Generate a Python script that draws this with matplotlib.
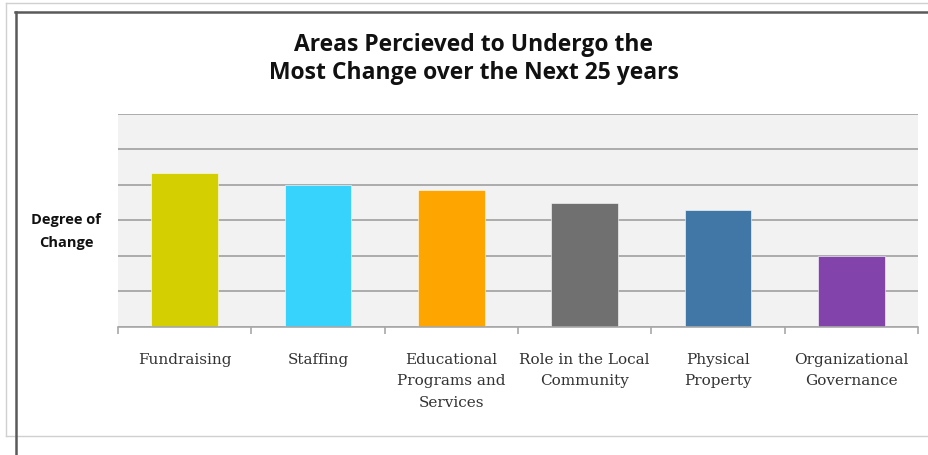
import matplotlib.pyplot as plt
from matplotlib.lines import Line2D

categories = ['Fundraising', 'Staffing', 'Educational\nPrograms and\nServices',
              'Role in the Local\nCommunity', 'Physical\nProperty',
              'Organizational\nGovernance']
values = [4.33, 4.0, 3.85, 3.48, 3.3, 2.0]
colors = ['#d4cf00', '#38d3fd', '#ffa500', '#707070', '#4177a7', '#8244ab']

W, H = 929, 456
fig = plt.figure(figsize=(W / 100, H / 100), dpi=100)

def px(x, y):
    return x / W, 1 - y / H

# outer frame lines (light gray page edge + dark chart border)
for (x0, y0), (x1, y1), c, lw in [((6, 4), (929, 4), '#d0d0d0', 1.0),
                                   ((6, 4), (6, 437), '#d0d0d0', 1.0),
                                   ((6, 437), (929, 437), '#d0d0d0', 1.0),
                                   ((15, 13), (929, 13), '#5a5a5a', 1.8),
                                   ((16, 13), (16, 456), '#5a5a5a', 1.8)]:
    a, b = px(x0, y0)
    c2, d = px(x1, y1)
    fig.add_artist(Line2D([a, c2], [b, d], color=c, lw=lw))

ax = fig.add_axes([118 / W, 1 - 327.7 / H, (918 - 118) / W, (327.7 - 115) / H])
ax.set_facecolor('#f2f2f2')
x = range(len(categories))
ax.bar(x, values, width=0.5, color=colors, edgecolor='white', linewidth=0.4, zorder=3)
ax.set_xlim(-0.5, len(categories) - 0.5)
ax.set_ylim(0, 6)
ax.set_yticks(range(0, 7))
ax.yaxis.grid(True, color='#a0a0a0', lw=1.2, zorder=1)
ax.tick_params(axis='y', length=0, labelleft=False)
for s in ['top', 'right', 'left']:
    ax.spines[s].set_visible(False)
ax.spines['bottom'].set_color('#a8a8a8')
ax.spines['bottom'].set_linewidth(1.2)
ax.spines['bottom'].set_zorder(4)

ax.set_xticks(list(x))
ax.set_xticklabels(categories, family='DejaVu Serif', fontsize=11, color='#333333',
                   linespacing=1.68, va='top')
ax.tick_params(axis='x', which='major', length=0, pad=18)
ax.set_xticks([i - 0.5 for i in range(len(categories) + 1)], minor=True)
ax.tick_params(axis='x', which='minor', length=5, color='#a8a8a8', width=1.2, direction='out')

fig.text(474 / W, 1 - 50.7 / H, 'Areas Percieved to Undergo the', ha='center', va='baseline',
         family='Open Sans', weight='bold', fontsize=16.5, color='#111111')
fig.text(474 / W, 1 - 79 / H, 'Most Change over the Next 25 years', ha='center', va='baseline',
         family='Open Sans', weight='bold', fontsize=16.5, color='#111111')
fig.text(66 / W, 1 - 224 / H, 'Degree of', ha='center', va='baseline',
         family='Open Sans', weight='bold', fontsize=10.5, color='#111111')
fig.text(66 / W, 1 - 247 / H, 'Change', ha='center', va='baseline',
         family='Open Sans', weight='bold', fontsize=10.5, color='#111111')

fig.savefig('out.png', dpi=100)
